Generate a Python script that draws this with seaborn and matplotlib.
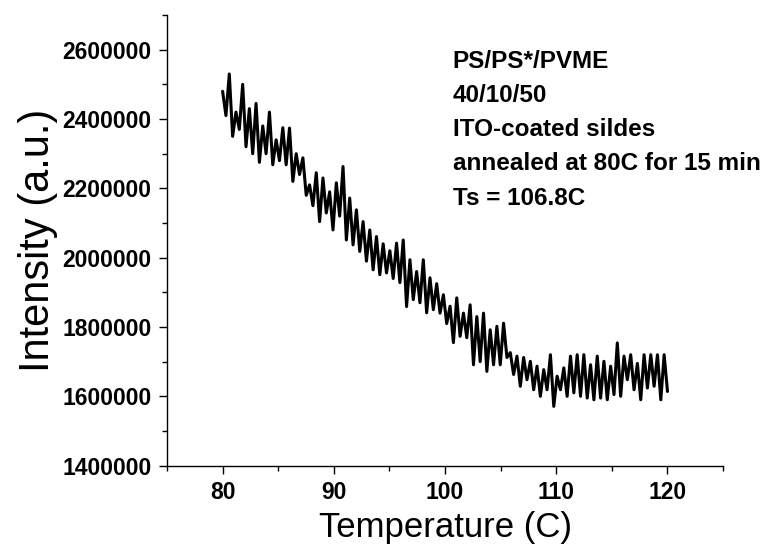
import numpy as np
import pandas as pd
import matplotlib
matplotlib.use("Agg")
import matplotlib.pyplot as plt
import matplotlib.ticker as mticker
import seaborn as sns

# ---- data ----
intensity = [
    2480000, 2410000, 2530000, 2350000, 2420000, 2370000, 2500000, 2320000,
    2430000, 2300000, 2445000, 2275000, 2380000, 2300000, 2420000, 2268000,
    2340000, 2280000, 2375000, 2268000, 2374000, 2220000, 2300000, 2240000,
    2288000, 2180000, 2210000, 2150000, 2245000, 2104000, 2230000, 2129000,
    2190000, 2080000, 2216000, 2120000, 2263000, 2051000, 2172000, 2037000,
    2138000, 2018000, 2104000, 1990000, 2080000, 1965000, 2061000, 1951000,
    2040000, 1956000, 2020000, 1940000, 2042000, 1928000, 2051000, 1859000,
    1994000, 1879000, 1960000, 1870000, 1994000, 1841000, 1942000, 1850000,
    1925000, 1840000, 1893000, 1810000, 1860000, 1755000, 1884000, 1773000,
    1840000, 1769000, 1864000, 1691000, 1830000, 1700000, 1840000, 1672000,
    1792000, 1691000, 1802000, 1691000, 1811000, 1712000, 1726000, 1663000,
    1716000, 1629000, 1712000, 1648000, 1701000, 1619000, 1687000, 1600000,
    1677000, 1619000, 1720000, 1571000, 1658000, 1619000, 1682000, 1600000,
    1716000, 1610000, 1720000, 1600000, 1720000, 1595000, 1691000, 1590000,
    1716000, 1595000, 1701000, 1590000, 1687000, 1605000, 1754000, 1600000,
    1716000, 1648000, 1720000, 1619000, 1695000, 1590000, 1720000, 1624000,
    1720000, 1629000, 1720000, 1590000, 1720000, 1614000,
]
t_start, t_end = 80, 120
temperature = np.linspace(t_start, t_end, len(intensity))

x_ticks = [80, 90, 100, 110, 120]
y_ticks = [1400000, 1600000, 1800000, 2000000, 2200000, 2400000, 2600000]
x_label = "Temperature (C)"
y_label = "Intensity (a.u.)"
notes = ["PS/PS*/PVME", "40/10/50", "ITO-coated sildes",
         "annealed at 80C for 15 min", "Ts = 106.8C"]

df = pd.DataFrame({"Temperature": temperature, "Intensity": intensity})

# ---- style ----
sns.set_theme(style="ticks", rc={"text.color": "black",
                                 "axes.labelcolor": "black",
                                 "xtick.color": "black",
                                 "ytick.color": "black",
                                 "axes.edgecolor": "black"})
plt.rcParams["font.family"] = ["Liberation Sans", "DejaVu Sans"]

fig = plt.figure(figsize=(7.66, 5.57), dpi=100)
ax = fig.add_axes([0.218, 0.164, 0.726, 0.809])

sns.lineplot(data=df, x="Temperature", y="Intensity", ax=ax,
             color="black", linewidth=2.2, estimator=None, sort=False)

ax.set_xlim(75, 125)
ax.set_ylim(1400000, 2700000)
ax.set_xticks(x_ticks)
ax.set_yticks(y_ticks)
ax.xaxis.set_minor_locator(mticker.MultipleLocator(5))
ax.yaxis.set_minor_locator(mticker.MultipleLocator(100000))
ax.yaxis.set_major_formatter(mticker.StrMethodFormatter("{x:.0f}"))

sns.despine(ax=ax)
for side in ("left", "bottom"):
    ax.spines[side].set_linewidth(1.0)
    ax.spines[side].set_color("black")

ax.tick_params(which="major", direction="out", length=6, width=1.0,
               color="black", labelcolor="black", labelsize=16.5, pad=5)
ax.tick_params(which="minor", direction="out", length=3.5, width=1.0,
               color="black")
for lab in ax.get_xticklabels() + ax.get_yticklabels():
    lab.set_fontweight("bold")

ax.set_xlabel(x_label, fontsize=25, labelpad=5, color="black")
ax.set_ylabel(y_label, fontsize=30, labelpad=3, color="black")

for i, line in enumerate(notes):
    ax.annotate(line, xy=(100.7, 2598000), xycoords="data",
                xytext=(0, -24.5 * i), textcoords="offset points",
                ha="left", va="top", fontsize=17.5, fontweight="bold",
                color="black", annotation_clip=False)

fig.savefig("out.png", dpi=100)
